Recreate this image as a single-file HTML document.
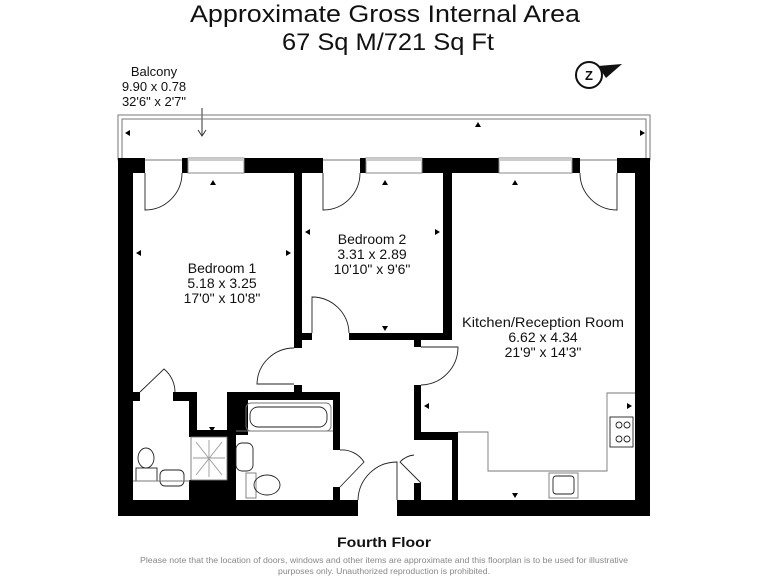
<!DOCTYPE html>
<html><head><style>
html,body{margin:0;padding:0;background:#fff;}
svg{display:block;}
text{font-family:"Liberation Sans",sans-serif;fill:#111;}
</style></head><body>
<svg width="768" height="576" viewBox="0 0 768 576" xmlns="http://www.w3.org/2000/svg">
<text x="385" y="22" font-size="24" text-anchor="middle" textLength="390" lengthAdjust="spacingAndGlyphs">Approximate Gross Internal Area</text>
<text x="388" y="50" font-size="24" text-anchor="middle" textLength="212" lengthAdjust="spacingAndGlyphs">67 Sq M/721 Sq Ft</text>
<text x="154" y="76" font-size="13" text-anchor="middle">Balcony</text>
<text x="154" y="91" font-size="13" text-anchor="middle">9.90 x 0.78</text>
<text x="154" y="106" font-size="13" text-anchor="middle">32'6" x 2'7"</text>
<line x1="202" y1="108" x2="202" y2="135" stroke="#333" stroke-width="1"/>
<polyline points="198,130 202,136 206,130" fill="none" stroke="#333"/>
<circle cx="589" cy="75" r="13" fill="none" stroke="#111" stroke-width="2"/>
<polygon points="598,66 622,64 606,78" fill="#111"/>
<text x="589" y="80" font-size="13" font-weight="bold" text-anchor="middle">Z</text>
<rect x="118" y="115" width="532" height="45" fill="none" stroke="#777" stroke-width="1"/>
<rect x="122" y="119" width="524" height="41" fill="none" stroke="#777" stroke-width="1"/>
<g fill="#000">
<rect x="118" y="158" width="27" height="15"/>
<rect x="182" y="158" width="6" height="15"/>
<rect x="244" y="158" width="79" height="15"/>
<rect x="360" y="158" width="6" height="15"/>
<rect x="422" y="158" width="77" height="15"/>
<rect x="572" y="158" width="8" height="15"/>
<rect x="617" y="158" width="33" height="15"/>
<rect x="118" y="158" width="15" height="358"/>
<rect x="635" y="158" width="15" height="358"/>
<rect x="118" y="500" width="240" height="16"/>
<rect x="397" y="500" width="253" height="16"/>
<rect x="294" y="173" width="8" height="175"/>
<rect x="294" y="333" width="18" height="7"/>
<rect x="443" y="173" width="9" height="167"/>
<rect x="349" y="333" width="103" height="7"/>
<rect x="414" y="333" width="7" height="14"/>
<rect x="294" y="385" width="8" height="8"/>
<rect x="414" y="385" width="7" height="55"/>
<rect x="414" y="483" width="7" height="17"/>
<rect x="414" y="432" width="44" height="8"/>
<rect x="452" y="432" width="6" height="68"/>
<rect x="227" y="392" width="113" height="8"/>
<rect x="227" y="392" width="21" height="43"/>
<rect x="227" y="392" width="9" height="108"/>
<rect x="333" y="392" width="7" height="58"/>
<rect x="333" y="487" width="7" height="13"/>
<rect x="133" y="392" width="7" height="9"/>
<rect x="173" y="392" width="24" height="9"/>
<rect x="189" y="392" width="8" height="45"/>
<rect x="189" y="430" width="38" height="7"/>
<rect x="189" y="480" width="46" height="20"/>
</g>
<g fill="#fff" stroke="#888" stroke-width="1">
<rect x="188" y="158" width="56" height="15"/>
<rect x="366" y="158" width="56" height="15"/>
<rect x="499" y="158" width="73" height="15"/>
</g>
<g fill="#ccc"><rect x="188" y="158" width="56" height="3"/><rect x="366" y="158" width="56" height="3"/><rect x="499" y="158" width="73" height="3"/></g>
<g fill="none" stroke="#222" stroke-width="0.9">
<path d="M145,173 V210 A37,37 0 0 0 182,173"/>
<path d="M323,173 V210 A37,37 0 0 0 360,173"/>
<path d="M617,173 V210 A37,37 0 0 1 580,173"/>
<path d="M312,333 V297 A37,37 0 0 1 349,333"/>
<path d="M421,347 H458 A38,38 0 0 1 421,385"/>
<path d="M294,384 H257 A37,37 0 0 1 294,348"/>
<path d="M397,500 V462 A39,39 0 0 0 358,500"/>
<path d="M340,487 L364,462 A26,26 0 0 0 340,450"/>
<path d="M421,483 L400,462 A22,22 0 0 1 414,455"/>
<path d="M140,392 L164,369 A30,30 0 0 1 175,392"/>
<path d="M458,432 H488 V471 H607 V393 H635" stroke="#777"/>
<rect x="549" y="473" width="29" height="25" stroke="#777"/>
<rect x="553" y="476" width="21" height="18" rx="3"/>
<rect x="610" y="417" width="23" height="30"/>
<circle cx="619" cy="425" r="3"/><circle cx="627" cy="425" r="3"/>
<circle cx="619" cy="439" r="3"/><circle cx="627" cy="439" r="3"/>
<rect x="246" y="403" width="85" height="28" rx="5" stroke="#777"/>
<rect x="250" y="407" width="77" height="20" rx="8"/>
<line x1="236" y1="431" x2="333" y2="431" stroke="#777"/>
<rect x="236" y="443" width="17" height="28" rx="6"/>
<rect x="246" y="473" width="10" height="25" stroke="#777"/>
<ellipse cx="267" cy="485" rx="13" ry="10"/>
<rect x="191" y="437" width="36" height="43" stroke="#777"/>
<path d="M196,442 L222,475 M222,442 L196,475 M209,440 V477 M193,458 H225" stroke="#999"/>
<ellipse cx="146" cy="458" rx="8" ry="10"/>
<rect x="136" y="468" width="21" height="13"/>
<rect x="160" y="470" width="24" height="16" rx="5"/>
<line x1="133" y1="481" x2="190" y2="481" stroke="#777"/>
</g>
<g fill="#000">
<polygon points="213,180 210,185 216,185"/>
<polygon points="385,180 382,185 388,185"/>
<polygon points="515,180 512,185 518,185"/>
<polygon points="478,122 475,127 481,127"/>
<polygon points="125,133 130,130 130,136"/>
<polygon points="645,133 640,130 640,136"/>
<polygon points="136,253 141,250 141,256"/>
<polygon points="291,253 286,250 286,256"/>
<polygon points="305,232 310,229 310,235"/>
<polygon points="440,232 435,229 435,235"/>
<polygon points="385,331 382,326 388,326"/>
<polygon points="424,406 429,403 429,409"/>
<polygon points="632,406 627,403 627,409"/>
<polygon points="515,498 512,493 518,493"/>
<polygon points="212,432 209,427 215,427"/>
</g>
<g font-size="14" text-anchor="middle">
<text x="222" y="273">Bedroom 1</text><text x="222" y="288">5.18 x 3.25</text><text x="222" y="303">17'0" x 10'8"</text>
<text x="372" y="244">Bedroom 2</text><text x="372" y="259">3.31 x 2.89</text><text x="372" y="274">10'10" x 9'6"</text>
<text x="543" y="327" textLength="162" lengthAdjust="spacingAndGlyphs">Kitchen/Reception Room</text><text x="543" y="342">6.62 x 4.34</text><text x="543" y="357">21'9" x 14'3"</text>
</g>
<text x="384" y="547" font-size="14" font-weight="bold" text-anchor="middle" textLength="94" lengthAdjust="spacingAndGlyphs">Fourth Floor</text>
<text x="384" y="563" font-size="8" text-anchor="middle" style="fill:#888" textLength="488" lengthAdjust="spacingAndGlyphs">Please note that the location of doors, windows and other items are approximate and this floorplan is to be used for illustrative</text>
<text x="384" y="574" font-size="8" text-anchor="middle" style="fill:#888" textLength="212" lengthAdjust="spacingAndGlyphs">purposes only. Unauthorized reproduction is prohibited.</text>
</svg>
</body></html>
